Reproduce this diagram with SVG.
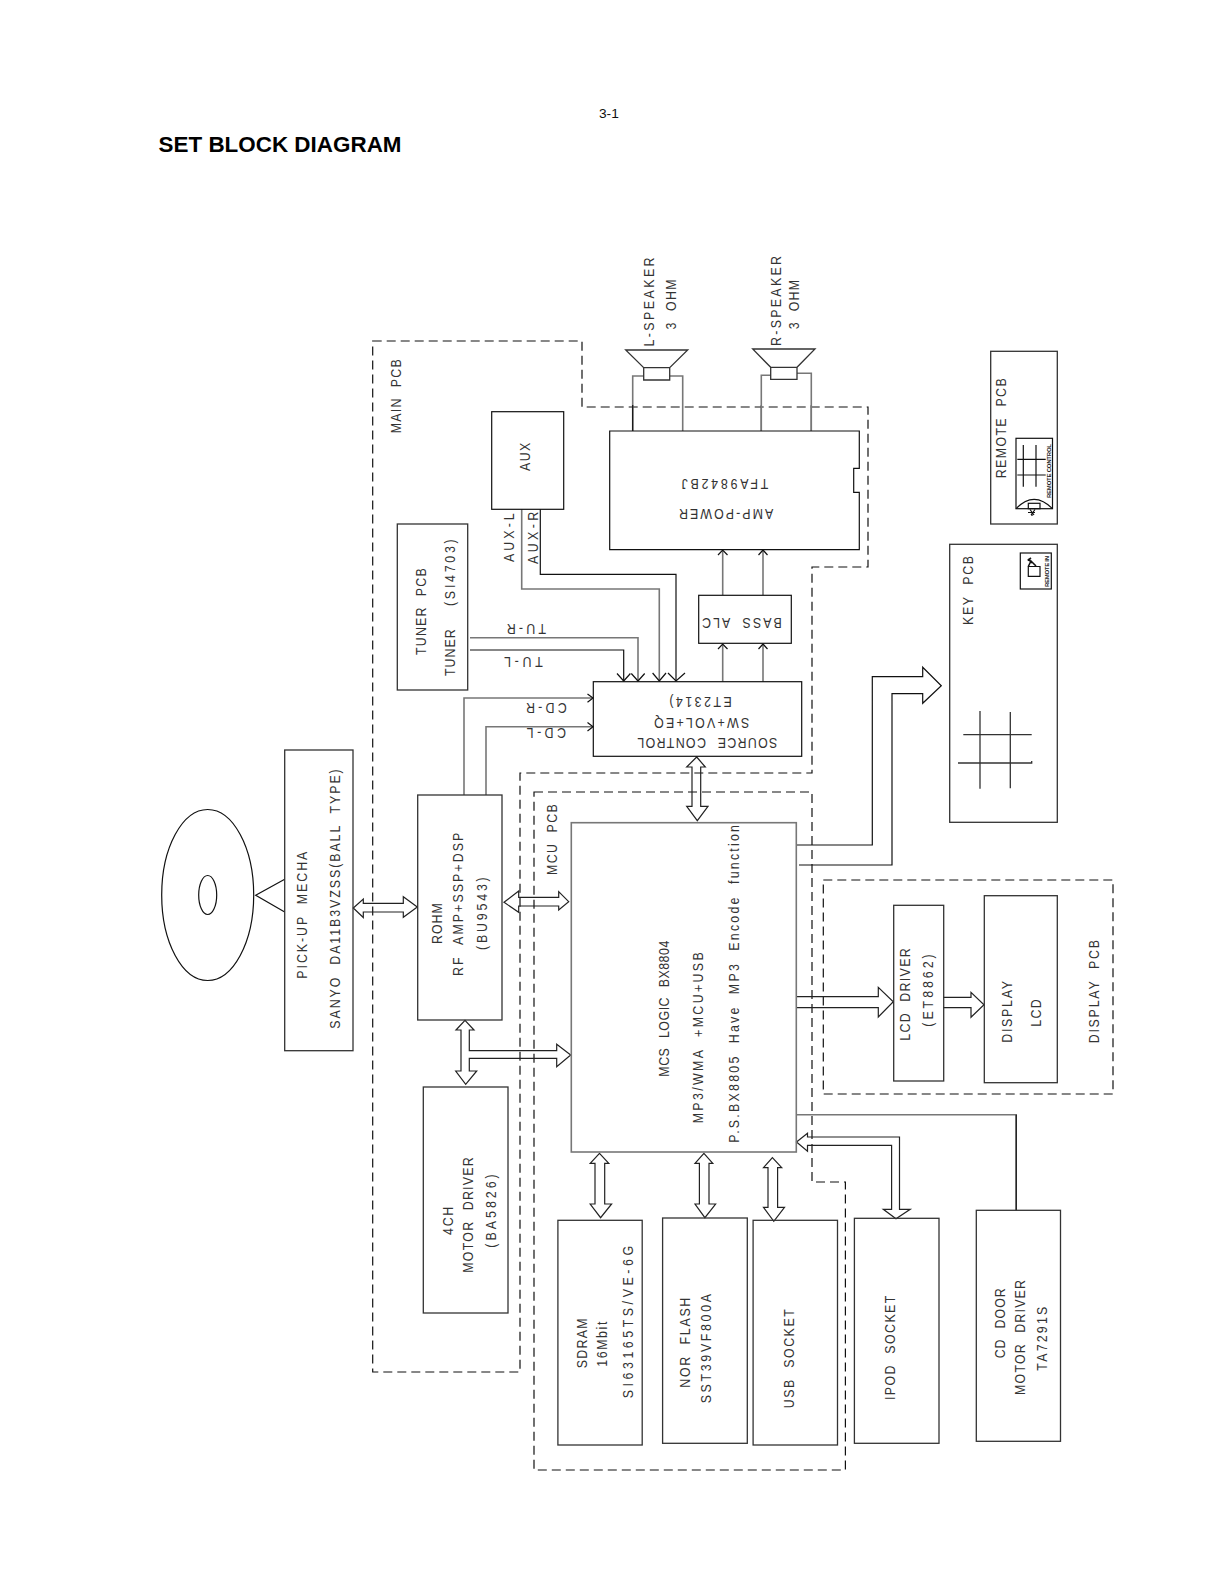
<svg xmlns="http://www.w3.org/2000/svg" width="1219" height="1582" viewBox="0 0 1219 1582">
<style>
.b{fill:none;stroke:#333;stroke-width:1.3}
.g{fill:none;stroke:#777;stroke-width:1.6}
.k{fill:none;stroke:#111;stroke-width:1.2}
.d{fill:none;stroke:#111;stroke-width:1.2;stroke-dasharray:9 5}
.w{fill:none;stroke:#222;stroke-width:1.2;stroke-linejoin:miter}
text{font-family:"Liberation Sans",Arial,sans-serif;font-size:15.5px;fill:#333;word-spacing:7px}
.s{font-size:6px;font-weight:bold;fill:#222;word-spacing:0}
</style>
<rect width="1219" height="1582" fill="#fff"/>
<text x="599" y="118" style="font-size:13.7px;fill:#111;word-spacing:0">3-1</text>
<text x="158.5" y="152" textLength="243" style="font-size:22.4px;font-weight:bold;fill:#000;word-spacing:0">SET BLOCK DIAGRAM</text>

<g id="pcb-outlines">
<path class="d" d="M372.7 341H582V407H868V567H812V773H520V1372H372.7Z"/>
<path class="d" d="M534 792H812V1182H845.4V1470H534Z"/>
<rect class="d" x="823.3" y="880" width="289.7" height="214"/>
<text transform="translate(401.3,433.3) rotate(-90) scale(.8,1)" textLength="92.5">MAIN PCB</text>
<text transform="translate(557.3,875) rotate(-90) scale(.8,1)" textLength="88.4">MCU PCB</text>
<text transform="translate(1099.3,1043.3) rotate(-90) scale(.8,1)" textLength="129.1">DISPLAY PCB</text>
</g>

<g id="connectors">
<path class="g" d="M632.7 431V376H643.7M669.7 376H682.7V431"/>
<path class="k" d="M632.7 431V405M761.3 431V405M811.3 431V405"/>
<path class="g" d="M761.3 431V375.3H770.7M797 373.3H811.3V431"/>
<path class="g" d="M521.7 509.3V589H659.3V680"/>
<path class="k" d="M540.3 509.3V574.3H676V680"/>
<path class="g" d="M470 637.7H638V680"/>
<path class="k" d="M470 650H623.7V680"/>
<path class="k" d="M617 673.5L623.7 681L630.4 673.5M631.3 673.5L638 681L644.7 673.5M652.6 673L659.3 681L666 673M668 673L676 681L685 673"/>
<path class="g" d="M464 795V698H592"/>
<path class="g" d="M486 795V726.7H592"/>
<path class="k" d="M587.5 694L593 698L587.5 702.3M587.5 722.5L593 726.7L587.5 731"/>
<path class="g" d="M722.7 595V551M763 595V551M722.7 681.7V645M763 681.7V645"/>
<path class="k" d="M718 555L722.7 550L727.5 555M758.5 555L763 550L767.5 555M718 649L722.7 644L727.5 649M758.5 649L763 644L767.5 649"/>
<path class="g" d="M796.7 1114.7H1016.2V1210.3"/>
<path class="k" d="M1016.2 1114.7V1210.3"/>
<path class="w" d="M353.3 908L363.3 899V903.3H403.3V896.7L417.3 907L403.3 917.3V912H363.3V917.5Z"/>
<path class="w" d="M504 902.3L518.7 891V897.3H558.7V891.7L568.7 901.7L558.7 910V906H518.7V912.3Z"/>
<path class="w" d="M465 1020.3L474 1030H469.3V1050.7H556.7V1044.3L570.7 1055L556.7 1066.7V1058.3H469.3V1071H476.7L465.7 1084.3L455.7 1071H461V1030H456Z"/>
<path class="w" d="M696.7 757L705.3 767H700.7V806.3H708L697.3 820.7L686.7 806.3H692V767H686.7Z"/>
<path class="w" d="M599.5 1153.3L608.8 1163.3H604.7V1204H611.6L600.6 1217.7L590.2 1204H595V1163.3H590.2Z"/>
<path class="w" d="M703.9 1153.3L712.8 1163.3H709V1204H715.6L704.9 1217.7L695 1204H699.4V1163.3H695Z"/>
<path class="w" d="M772.4 1157.7L781.7 1167.7H777.6V1207.3H784.5L773.8 1221.3L763.5 1207.3H768V1167.7H763.5Z"/>
<path class="w" d="M796.5 1142L807.5 1133.3V1137H899.5V1209.3H910.2L896 1218.7L883.3 1209.3H891.6V1145.3H807.5V1151.3Z"/>
<path class="k" d="M796.7 845H872.3V676.7H922.7V667.3L941.3 685.7L922.7 703.3V693.7H892V865H799"/>
<path class="w" d="M796.7 996.7H878.3V987.3L893.3 1001.7L878.3 1017V1007.7H796.7"/>
<path class="w" d="M943 997.3H971V992.3L984 1004.7L971 1017.3V1007.7H943"/>
</g>

<g id="disc"><ellipse class="k" cx="207.7" cy="895" rx="46" ry="85.5"/><ellipse class="k" cx="207.7" cy="895" rx="9" ry="19.5"/><path class="k" d="M284.7 879.3L255.7 895.3L284.7 912"/></g>

<g id="pickup"><rect class="b" x="284.7" y="750" width="68.3" height="300.7"/>
<text transform="translate(307.3,978.7) rotate(-90) scale(.8,1)" textLength="158.8">PICK-UP MECHA</text>
<text transform="translate(340,1028.7) rotate(-90) scale(.8,1)" textLength="324.3">SANYO DA11B3VZSS(BALL TYPE)</text></g>

<g id="rohm"><rect class="b" x="417.7" y="795" width="84.3" height="225"/>
<text transform="translate(442,944) rotate(-90) scale(.8,1)" textLength="50.9">ROHM</text>
<text transform="translate(462.7,976) rotate(-90) scale(.8,1)" textLength="179.1">RF AMP+SSP+DSP</text>
<text transform="translate(487,950) rotate(-90) scale(.8,1)" textLength="90.9">(BU9543)</text></g>

<g id="motor"><rect class="b" x="423.3" y="1087" width="84.7" height="226"/>
<text transform="translate(452.7,1235) rotate(-90) scale(.8,1)" textLength="35.4">4CH</text>
<text transform="translate(472.7,1272.7) rotate(-90) scale(.8,1)" textLength="144.3">MOTOR DRIVER</text>
<text transform="translate(495.7,1247.7) rotate(-90) scale(.8,1)" textLength="91.8">(BA5826)</text></g>

<g id="mcu"><rect class="g" x="571.3" y="822.7" width="225" height="329.3"/>
<text transform="translate(669.3,1076.7) rotate(-90) scale(.8,1)" textLength="170">MCS LOGIC BX8804</text>
<text transform="translate(703.3,1123.3) rotate(-90) scale(.8,1)" textLength="213.8">MP3/WMA +MCU+USB</text>
<text transform="translate(739.3,1142.7) rotate(-90) scale(.8,1)" textLength="397.1">P.S.BX8805 Have MP3 Encode function</text></g>

<g id="source"><rect class="k" x="593.3" y="681.7" width="208.4" height="74.6"/>
<text transform="translate(777.3,738.3) rotate(180) scale(.8,1)" textLength="175">SOURCE CONTROL</text>
<text transform="translate(749.3,718.3) rotate(180) scale(.8,1)" textLength="119.1">SW+VOL+EQ</text>
<text transform="translate(731.7,697.3) rotate(180) scale(.8,1)" textLength="78">ET2314)</text></g>

<g id="amp"><path class="k" d="M609.7 431H859.3V468.3H853.7V492.3H859.3V549.7H609.7Z"/>
<text transform="translate(768.3,479.3) rotate(180) scale(.8,1)" textLength="108.3">TFA9842BJ</text>
<text transform="translate(773.3,509) rotate(180) scale(.8,1)" textLength="117.9">AMP-POWER</text></g>

<g id="bass"><rect class="k" x="698.7" y="595.3" width="92.6" height="48"/>
<text transform="translate(781.7,618.3) rotate(180) scale(.8,1)" textLength="99.6">BASS ALC</text></g>

<g id="aux"><rect class="k" x="491.7" y="411.7" width="72" height="97.6"/>
<text transform="translate(530,471) rotate(-90) scale(.8,1)" textLength="35.4">AUX</text>
<text transform="translate(514,562) rotate(-90) scale(.8,1)" textLength="60.9">AUX-L</text>
<text transform="translate(538.3,564) rotate(-90) scale(.8,1)" textLength="65.4">AUX-R</text></g>

<g id="tuner"><rect class="b" x="397.3" y="524" width="70.4" height="166"/>
<text transform="translate(425.7,655) rotate(-90) scale(.8,1)" textLength="108.4">TUNER PCB</text>
<text transform="translate(455,606) rotate(-90) scale(.8,1)" textLength="83.4">(SI4703)</text>
<text transform="translate(455,676) rotate(-90) scale(.8,1)" textLength="58.4">TUNER</text>
<text transform="translate(546,624) rotate(180) scale(.8,1)" textLength="49.1">TU-R</text>
<text transform="translate(542.7,656.7) rotate(180) scale(.8,1)" textLength="48.4">TU-L</text>
<text transform="translate(566.7,703.3) rotate(180) scale(.8,1)" textLength="50.9">CD-R</text>
<text transform="translate(566,728.3) rotate(180) scale(.8,1)" textLength="49.1">CD-L</text></g>

<g id="l-speaker"><path class="b" d="M625.7 350H687.7L669.7 367.7H643.7ZM643.7 367.7H669.7V380H643.7Z"/>
<text transform="translate(654,346.5) rotate(-90) scale(.8,1)" textLength="111.3">L-SPEAKER</text>
<text transform="translate(675.5,329.5) rotate(-90) scale(.8,1)" textLength="62.5">3 OHM</text></g>

<g id="r-speaker"><path class="b" d="M752.7 349H815L797 367.3H770.7ZM770.7 367.3H797V379.3H770.7Z"/>
<text transform="translate(781.3,346) rotate(-90) scale(.8,1)" textLength="112.5">R-SPEAKER</text>
<text transform="translate(798.7,329.3) rotate(-90) scale(.8,1)" textLength="61.6">3 OHM</text></g>

<g id="key"><rect class="b" x="949.7" y="544.3" width="107.6" height="278"/>
<text transform="translate(972.7,625) rotate(-90) scale(.8,1)" textLength="86.3">KEY PCB</text>
<path class="b" d="M980 711V788.7M1010.3 712V788.3M963.3 734.7H1031.7M958 763H1031.7V761"/>
<rect class="k" x="1020.3" y="553" width="31" height="36"/>
<path class="k" d="M1028.3 566.5H1040V576.3H1028.3Z"/>
<path class="k" d="M1028.3 566.5L1031 561L1036 566M1028 559L1032 563M1027.7 560.5L1031 558" style="stroke-width:1.6"/>
<text class="s" transform="translate(1049,587) rotate(-90)" textLength="31">REMOTE IN</text></g>

<g id="remote"><rect class="b" x="990.7" y="351.3" width="66.6" height="172.7"/>
<text transform="translate(1006,478.3) rotate(-90) scale(.8,1)" textLength="125">REMOTE PCB</text>
<rect class="k" x="1016" y="438.3" width="36.5" height="70.4"/>
<path class="k" d="M1023.3 445V486.7M1036 445V486.7M1017.3 459.3H1045.7M1017.3 475H1045.7M1016 508.7Q1034 490 1052.5 508.7"/>
<rect class="k" x="1028.3" y="503.3" width="11.7" height="5.4"/>
<path class="k" d="M1030 509.5L1034 515M1035 509.5L1031 515M1028 512.5H1035M1032 513V516"/>
<text class="s" transform="translate(1050.8,498) rotate(-90)" textLength="54">REMOTE CONTROL</text></g>

<g id="lcd-driver"><rect class="b" x="893.7" y="905.3" width="50" height="175.7"/>
<text transform="translate(910,1040.7) rotate(-90) scale(.8,1)" textLength="115.5">LCD DRIVER</text>
<text transform="translate(933.3,1026.7) rotate(-90) scale(.8,1)" textLength="90.5">(ET8862)</text></g>

<g id="display"><rect class="b" x="984.3" y="895.7" width="73" height="187"/>
<text transform="translate(1012.3,1042.7) rotate(-90) scale(.8,1)" textLength="77.1">DISPLAY</text>
<text transform="translate(1040.7,1026.7) rotate(-90) scale(.8,1)" textLength="34.3">LCD</text></g>

<g id="sdram"><rect class="b" x="557.9" y="1220.3" width="84.3" height="224.7"/>
<text transform="translate(586.5,1368.3) rotate(-90) scale(.8,1)" textLength="62.5">SDRAM</text>
<text transform="translate(606.8,1366.7) rotate(-90) scale(.8,1)" textLength="56.3">16Mbit</text>
<text transform="translate(632.6,1398.3) rotate(-90) scale(.8,1)" textLength="190.4">SI63165TS/VE-6G</text></g>

<g id="nor"><rect class="b" x="662.6" y="1218" width="84.7" height="225.3"/>
<text transform="translate(689.8,1387.7) rotate(-90) scale(.8,1)" textLength="112.5">NOR FLASH</text>
<text transform="translate(711.1,1403.3) rotate(-90) scale(.8,1)" textLength="136.6">SST39VF800A</text></g>

<g id="usb"><rect class="b" x="753.1" y="1220.3" width="84.4" height="224.7"/>
<text transform="translate(793.8,1408.3) rotate(-90) scale(.8,1)" textLength="123.8">USB SOCKET</text></g>

<g id="ipod"><rect class="b" x="854.4" y="1218.3" width="84.6" height="225"/>
<text transform="translate(894.7,1400) rotate(-90) scale(.8,1)" textLength="130.4">IPOD SOCKET</text></g>

<g id="cd-door"><rect class="b" x="976.3" y="1210.3" width="84.2" height="231"/>
<text transform="translate(1004.5,1358.3) rotate(-90) scale(.8,1)" textLength="87.5">CD DOOR</text>
<text transform="translate(1024.5,1395) rotate(-90) scale(.8,1)" textLength="143.8">MOTOR DRIVER</text>
<text transform="translate(1046.9,1370.7) rotate(-90) scale(.8,1)" textLength="80">TA7291S</text></g>
</svg>
